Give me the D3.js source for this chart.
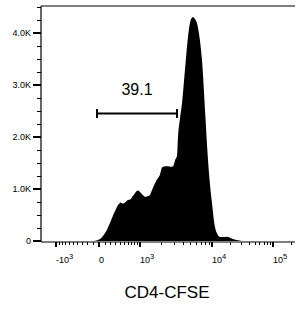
<!DOCTYPE html>
<html>
<head>
<meta charset="utf-8">
<script src="https://cdn.jsdelivr.net/npm/d3@7"></script>
<style>
  body { margin: 0; background: #fff; }
  svg { display: block; font-family: "Liberation Sans", Arial, sans-serif; }
</style>
</head>
<body>
<svg id="chart" width="296" height="311"></svg>
<script>
// histogram: channel value (CD4-CFSE) and count
var channel = [-150, -86, -40, 0, 40, 86, 130, 160, 212, 270, 320, 350, 390, 415, 470, 535, 600, 668, 740, 822, 880, 926, 980, 1071, 1130, 1188, 1300, 1405, 1500, 1653, 1800, 1945, 2050, 2142, 2300, 2512, 2750, 2946, 3150, 3340, 3445, 3650, 3912, 4290, 4713, 5025, 5300, 5519, 5800, 6255, 6800, 7313, 8035, 8826, 10000, 11196, 12300, 13524, 15500, 17600, 20000, 22080, 26700, 32200];
var counts = [0, 0, 10, 30, 60, 120, 190, 260, 380, 520, 620, 680, 720, 740, 720, 745, 790, 800, 860, 925, 960, 970, 950, 900, 870, 850, 860, 890, 980, 1110, 1200, 1280, 1400, 1430, 1440, 1440, 1430, 1440, 1560, 1640, 2000, 2330, 2650, 3290, 3920, 4200, 4290, 4310, 4280, 4190, 3900, 3480, 2520, 1560, 730, 270, 130, 77, 75, 80, 60, 38, 15, 0];

var yTicks = [0, 1000, 2000, 3000, 4000];
var yTickLabels = ["0", "1.0K", "2.0K", "3.0K", "4.0K"];
var xTicks = [-1000, 0, 1000, 10000, 100000];
var xTickBase = ["-10", "0", "10", "10", "10"];
var xTickExp = ["3", "", "3", "4", "5"];

var gateRange = [-34, 3340];  // gate ends, channel values
var gateLevel = 2460;         // count level of the gate bar
var gateLabel = "39.1";
var axisTitle = "CD4-CFSE";

var svg = d3.select("#chart");
var pLeft = 41, pRight = 295, pTop = 6, pBottom = 242;

// biexponential-ish display: asinh transform then piecewise linear
function tr(v) { return Math.asinh(v / 500); }
var knots = [-1000, 0, 1000, 10000, 100000];
var xs = d3.scaleLinear().domain(knots.map(tr)).range([56, 99, 140, 212, 273]);
function x(v) { return xs(tr(v)); }

var y = d3.scaleLinear().domain([0, 4520]).range([241, pTop]);

// histogram
var pts = channel.map(function(c, i) { return [c, counts[i]]; });
var area = d3.area()
  .x(function(d) { return x(d[0]); })
  .y0(y(0))
  .y1(function(d) { return y(d[1]); })
  .curve(d3.curveMonotoneX);
svg.append("path").datum(pts).attr("d", area).attr("fill", "#000");

// frame lines
var frame = svg.append("g").attr("stroke", "#000").attr("stroke-width", 1.2);
frame.append("line").attr("x1", pLeft).attr("x2", pRight).attr("y1", pTop).attr("y2", pTop);
frame.append("line").attr("x1", pLeft).attr("x2", pLeft).attr("y1", pTop).attr("y2", pBottom);
frame.append("line").attr("x1", pLeft).attr("x2", pRight).attr("y1", pBottom).attr("y2", pBottom);

// y axis ticks (major every 1000, minor every 250)
var yMinor = d3.range(250, 4520, 250).filter(function(v) { return v % 1000 != 0; });
svg.append("g").selectAll("line").data(yMinor).enter().append("line")
  .attr("x1", pLeft - 4).attr("x2", pLeft)
  .attr("y1", function(d) { return Math.round(y(d)) + 0.5; })
  .attr("y2", function(d) { return Math.round(y(d)) + 0.5; })
  .attr("stroke", "#000").attr("stroke-width", 1);
svg.append("g").selectAll("line").data(yTicks).enter().append("line")
  .attr("x1", pLeft - 8).attr("x2", pLeft)
  .attr("y1", function(d) { return Math.round(y(d)); })
  .attr("y2", function(d) { return Math.round(y(d)); })
  .attr("stroke", "#000").attr("stroke-width", 2);
svg.append("g").selectAll("text").data(yTicks).enter().append("text")
  .attr("x", pLeft - 10)
  .attr("y", function(d) { return y(d) + 3; })
  .attr("text-anchor", "end")
  .attr("font-size", "9px")
  .text(function(d, i) { return yTickLabels[i]; });

// x axis minor ticks
var xMinor = [];
d3.range(-900, 0, 100).forEach(function(v) { xMinor.push(v); });
d3.range(100, 1000, 100).forEach(function(v) { xMinor.push(v); });
d3.range(2000, 10000, 1000).forEach(function(v) { xMinor.push(v); });
d3.range(20000, 100000, 10000).forEach(function(v) { xMinor.push(v); });
xMinor.push(200000);
svg.append("g").selectAll("line").data(xMinor).enter().append("line")
  .attr("x1", function(d) { return Math.round(x(d)) + 0.5; })
  .attr("x2", function(d) { return Math.round(x(d)) + 0.5; })
  .attr("y1", pBottom).attr("y2", pBottom + 3)
  .attr("stroke", "#000").attr("stroke-width", 1);
svg.append("g").selectAll("line").data(xTicks).enter().append("line")
  .attr("x1", function(d) { return Math.round(x(d)); })
  .attr("x2", function(d) { return Math.round(x(d)); })
  .attr("y1", pBottom).attr("y2", pBottom + 5)
  .attr("stroke", "#000").attr("stroke-width", 2);

var xl = svg.append("g").selectAll("text").data(xTicks).enter().append("text")
  .attr("x", function(d) { return x(d); })
  .attr("y", 263)
  .attr("font-size", "9px");
xl.append("tspan").text(function(d, i) { return xTickBase[i]; });
xl.append("tspan").attr("dy", -4).attr("font-size", "7.5px").text(function(d, i) { return xTickExp[i]; });

// gate bar
var gy = Math.round(y(gateLevel)) + 0.5;
var gate = svg.append("g").attr("stroke", "#000").attr("stroke-width", 2);
gate.append("line").attr("x1", x(gateRange[0])).attr("x2", x(gateRange[1])).attr("y1", gy).attr("y2", gy);
gateRange.forEach(function(g) {
  gate.append("line").attr("x1", x(g)).attr("x2", x(g)).attr("y1", gy - 4.5).attr("y2", gy + 4.5);
});
svg.append("text")
  .attr("x", (x(gateRange[0]) + x(gateRange[1])) / 2)
  .attr("y", gy - 19)
  .attr("text-anchor", "middle")
  .attr("font-size", "16px")
  .text(gateLabel);

// axis title
svg.append("text")
  .attr("x", 167).attr("y", 298)
  .attr("text-anchor", "middle")
  .attr("font-size", "17px")
  .text(axisTitle);
</script>
</body>
</html>
